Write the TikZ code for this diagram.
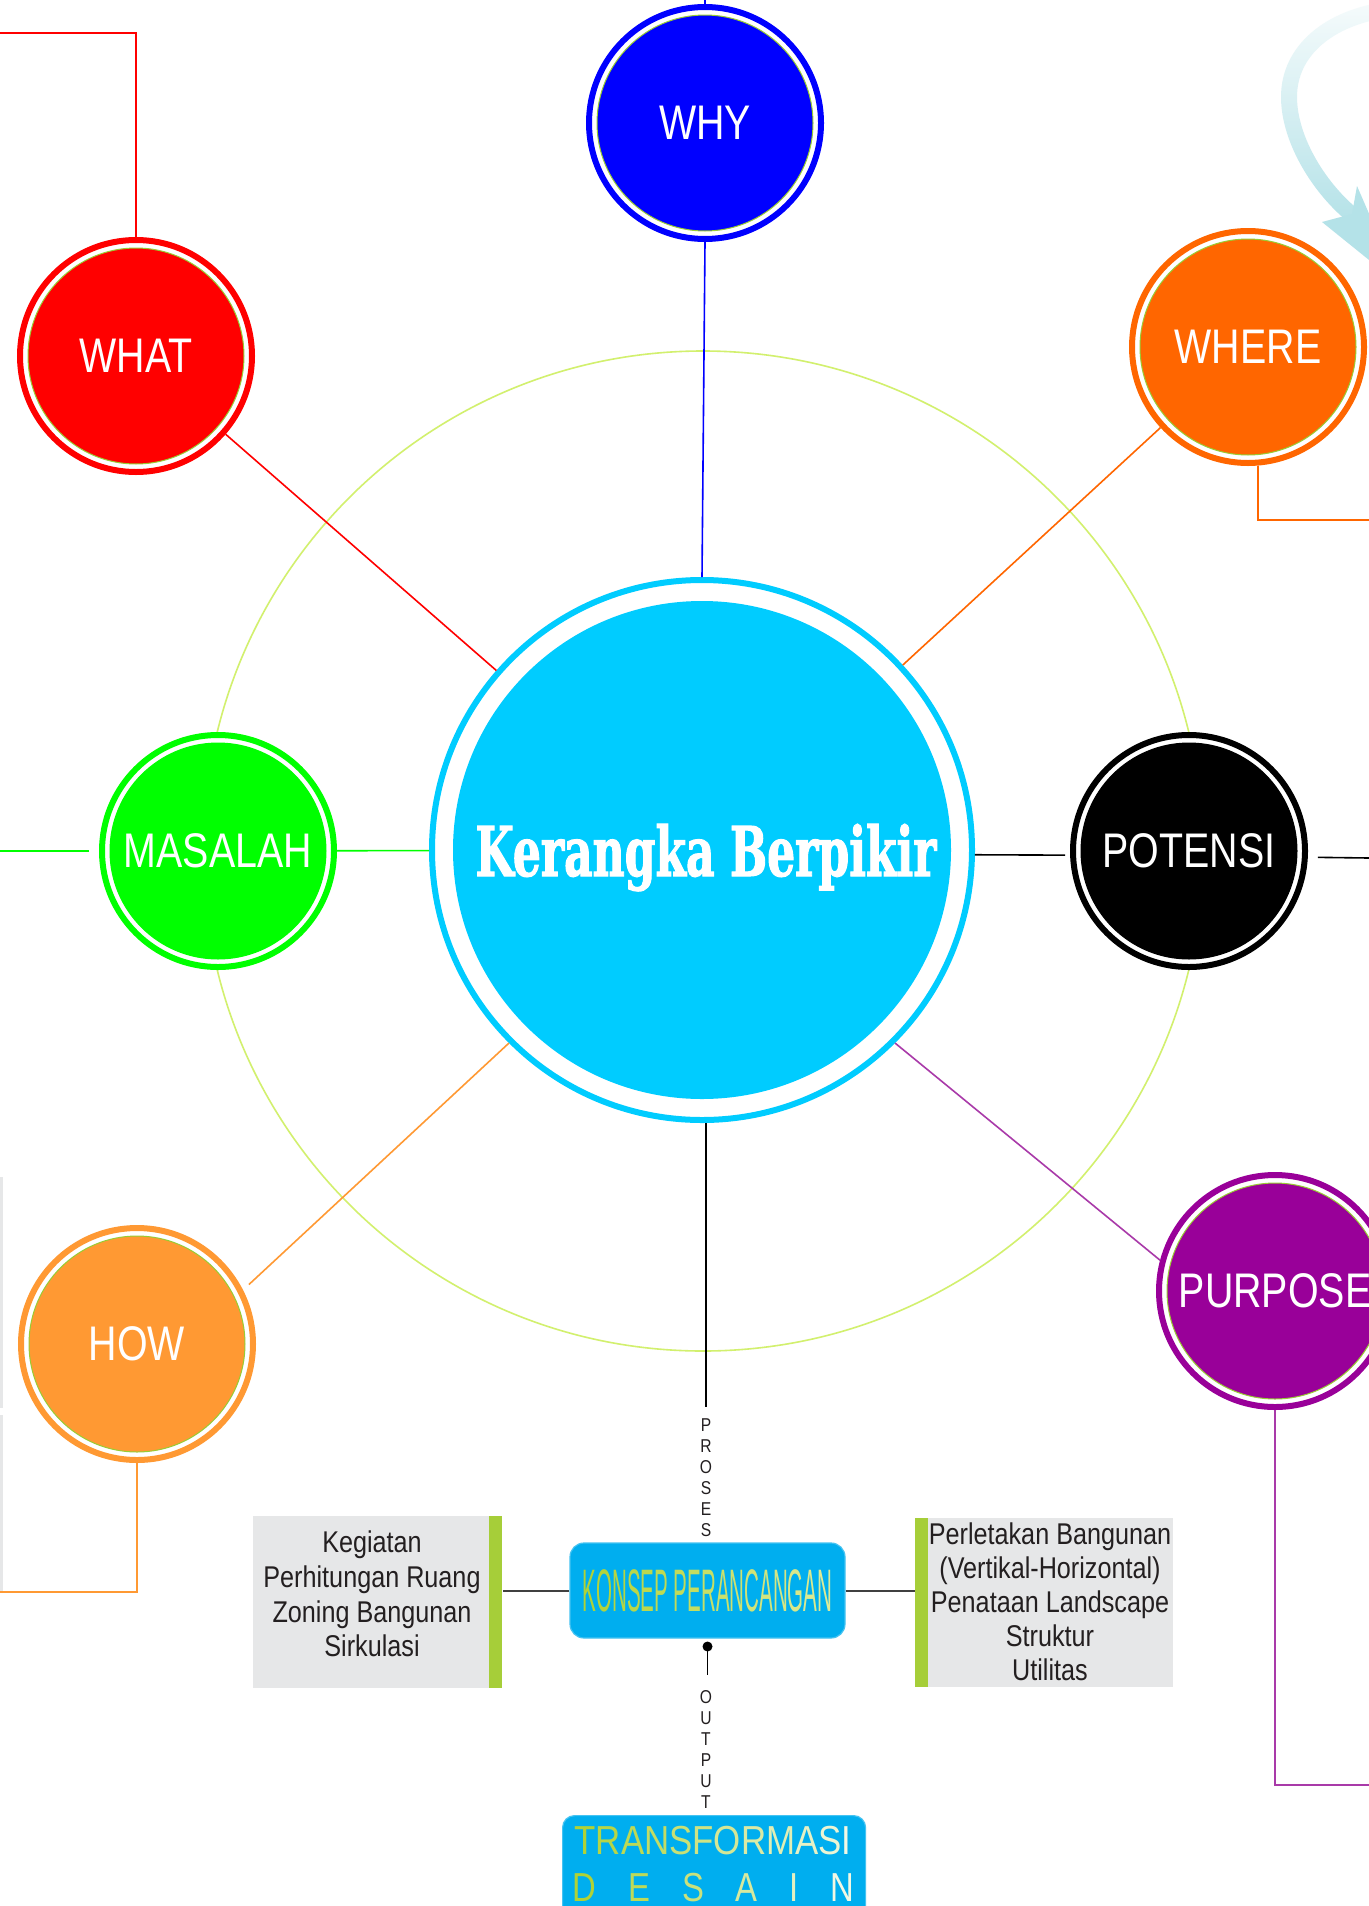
\documentclass[tikz,border=0pt]{standalone}
\usepackage{fontspec}
\setmainfont{Liberation Sans}
\newfontfamily\narrowsans{Liberation Sans}[FakeStretch=0.81]
\newfontfamily\panelsans{Liberation Sans}[FakeStretch=0.84]
\newfontfamily\slabserif{DejaVu Serif}[FakeStretch=0.75, FakeBold=1.6]
\usetikzlibrary{fadings}

\definecolor{whyblue}{HTML}{0000FF}
\definecolor{whatred}{HTML}{FF0000}
\definecolor{whereorange}{HTML}{FF6600}
\definecolor{masgreen}{HTML}{00FF00}
\definecolor{howorange}{HTML}{FF9933}
\definecolor{purp}{HTML}{990099}
\definecolor{purpline}{HTML}{A93AA9}
\definecolor{hubcyan}{HTML}{00CCFF}
\definecolor{rimgreen}{HTML}{99CC33}
\definecolor{orbitgreen}{HTML}{D2F06E}
\definecolor{boxblue}{HTML}{00AEEF}
\definecolor{boxedge}{HTML}{45C3F2}
\definecolor{panelgrey}{HTML}{E6E7E8}
\definecolor{bargreen}{HTML}{A6CE39}
\definecolor{paneltext}{HTML}{231F20}
\definecolor{lettergrey}{HTML}{231F20}
\definecolor{wiregrey}{HTML}{404040}
\definecolor{arrowcyan}{HTML}{B4E2E8}
\definecolor{lgA}{RGB}{176,210,54}
\definecolor{lgB}{RGB}{242,248,228}
\definecolor{lgC}{RGB}{222,235,150}

\tikzfading[name=arrowfade, top color=transparent!88, middle color=transparent!0, bottom color=transparent!0]

% letter-by-letter colour ramps
\newcommand\kfade[2]{\textcolor{lgC!#1!lgA}{#2}}
\newcommand\tfade[2]{\textcolor{lgB!#1!lgA}{#2}}

% a bubble: outer ring, white gap, filled core with label
\newcommand\bubble[5]{%
  \node[ring=#2] (#1) at (#4) {};
  \node[core=#2, draw=#3] (#1c) at (#4) {#5};
}

\begin{document}
\begin{tikzpicture}[x=0.5pt, y=-0.5pt,
  ring/.style={circle, draw=#1, line width=3pt, fill=white, minimum size=116pt, inner sep=0pt},
  core/.style={circle, fill=#1, line width=0.5pt, minimum size=108pt, inner sep=0pt,
               text=white, font=\narrowsans\fontsize{24.3}{28}\selectfont},
  link/.style={line width=0.8pt},
  elbow/.style={line width=1pt},
  greybox/.style={rectangle, fill=panelgrey, inner sep=0pt, anchor=north west},
  greenbar/.style={rectangle, fill=bargreen, inner sep=0pt, anchor=north west},
  bluebox/.style={rectangle, rounded corners=7pt, fill=boxblue, draw=boxedge, line width=0.6pt, inner sep=0pt},
  spelled/.style={align=center, text=lettergrey, font=\panelsans\fontsize{9.3}{10.5}\selectfont, inner xsep=0pt},
  panel/.style={align=center, text=paneltext, inner sep=0pt},
]

\useasboundingbox (0,0) rectangle (1369,1906);
\fill[white] (0,0) rectangle (1369,1906);
\clip (0,0) rectangle (1369,1906);

% thin grey strips on the left margin
\fill[panelgrey] (0,1177) rectangle (3,1408);
\fill[panelgrey] (0,1415) rectangle (3,1592);

% orbit through the side bubbles
\node[circle, draw=orbitgreen, line width=0.8pt, minimum size=500pt, inner sep=0pt] (orbit) at (703,851) {};

% central hub
\node[circle, draw=hubcyan, line width=3pt, fill=white, minimum size=270pt, inner sep=0pt] (cen) at (702,850) {};
\node[circle, fill=hubcyan, minimum size=249pt, inner sep=0pt] (cenc) at (702,850) {};
\node[anchor=base, text=white, inner sep=0pt] (title) at (706,876)
  {\resizebox{230.5pt}{\height}{\slabserif\bfseries\fontsize{34.3}{40}\selectfont Kerangka Berpikir}};

% bubbles
\bubble{why}{whyblue}{rimgreen}{705,123}{WHY}
\bubble{what}{whatred}{rimgreen}{136,356}{WHAT}
\bubble{where}{whereorange}{rimgreen}{1248,347}{WHERE}
\bubble{mas}{masgreen}{masgreen}{218,851}{MASALAH}
\bubble{pot}{black}{black}{1189,851}{POTENSI}
\bubble{how}{howorange}{rimgreen}{137,1344}{HOW}
\bubble{pur}{purp}{rimgreen}{1275,1291}{PURPOSE}

% spokes to the hub
\coordinate (whyTop) at (705,0);
\draw[link, whyblue] (why.south) -- (cen.north);
\draw[link, whyblue] (why.north) -- (whyTop);

\coordinate (whatEnd) at (0,33);
\draw[link, whatred] (what) -- (cen);
\draw[elbow, whatred] (what.north) |- (whatEnd);

\coordinate (whereEnd) at (1369,520);
\draw[link, whereorange] (where) -- (cen);
\draw[elbow, whereorange] (where.-85) |- (whereEnd);

\coordinate (masEnd) at (0,851);
\draw[link, masgreen] (mas) -- (cen);
\draw[link, masgreen, shorten <=5pt] (mas.west) -- (masEnd);

\coordinate (potEnd) at (1369,858);
\draw[link, black, shorten >=2.5pt] (cen.-1) -- (pot.182);
\draw[link, black, shorten <=5pt] (pot.-3) -- (potEnd);

\coordinate (howEnd) at (0,1592);
\draw[link, howorange, shorten >=4pt] (cen.225) -- (how.27);
\draw[elbow, howorange] (how.south) |- (howEnd);

\coordinate (purEnd) at (1369,1785);
\draw[link, purpline] (cen.-45) -- (pur.165);
\draw[elbow, purpline] (pur.south) |- (purEnd);

% curved arrow in the top right corner
\draw[arrowcyan, line width=8pt, path fading=arrowfade]
  (1385,10) .. controls (1330,18) and (1289,50) .. (1289,97)
            .. controls (1289,140) and (1320,190) .. (1356,218);
\fill[arrowcyan] (1357,186) -- (1400,285) -- (1322,222) -- (1352,214) -- cycle;

% process column
\node[spelled, inner ysep=5.5pt] (proses) at (706,1477.5) {P\\R\\O\\S\\E\\S};
\draw[link, black] (proses.north |- cen.south) -- (proses.north);

\node[bluebox, minimum width=137.5pt, minimum height=47.5pt] (konsep) at (707.5,1590.5)
  {\resizebox{125pt}{\height}{\narrowsans\fontsize{30}{36}\selectfont
   \kfade{0}{K}\kfade{6}{O}\kfade{12}{N}\kfade{19}{S}\kfade{25}{E}\kfade{31}{P}
   \kfade{37}{P}\kfade{44}{E}\kfade{50}{R}\kfade{56}{A}\kfade{62}{N}\kfade{69}{C}%
   \kfade{75}{A}\kfade{81}{N}\kfade{87}{G}\kfade{94}{A}\kfade{100}{N}}};

% side panels
\node[greybox, minimum width=118pt, minimum height=86pt] (kbox) at (253,1516) {};
\node[greenbar, minimum width=6.5pt, minimum height=86pt] (kbar) at (489,1516) {};
\node[panel, font=\panelsans\fontsize{15}{17.3}\selectfont] (ktext) at (372,1594)
  {Kegiatan\\Perhitungan Ruang\\Zoning Bangunan\\Sirkulasi};

\node[greenbar, minimum width=6.5pt, minimum height=84.5pt] (pbar) at (915,1518) {};
\node[greybox, minimum width=122.5pt, minimum height=84.5pt] (pbox) at (928,1518) {};
\node[panel, font=\panelsans\fontsize{15}{17}\selectfont] (ptext) at (1050,1601.5)
  {Perletakan Bangunan\\(Vertikal-Horizontal)\\Penataan Landscape\\Struktur\\Utilitas};

\draw[wiregrey, line width=1pt] (konsep.west) -- (konsep.west -| kbar.east);
\draw[wiregrey, line width=1pt] (konsep.east) -- (konsep.east -| pbar.west);

% output column
\node[circle, fill=black, minimum size=5pt, inner sep=0pt] (odot) at (707.5,1646.5) {};
\node[spelled, inner ysep=7.5pt] (output) at (706,1749.5) {O\\U\\T\\P\\U\\T};
\draw[link, black] (odot.center) -- (odot |- output.north);

\node[bluebox, rounded corners=6pt, anchor=north west, minimum width=151.5pt, minimum height=55pt] (tf) at (562,1815) {};
\node[anchor=base, inner sep=0pt] (tfA) at (713,1854)
  {\resizebox{138.35pt}{\height}{\narrowsans\fontsize{20.25}{24}\selectfont
   \tfade{0}{T}\tfade{9}{R}\tfade{18}{A}\tfade{27}{N}\tfade{36}{S}\tfade{45}{F}%
   \tfade{55}{O}\tfade{64}{R}\tfade{73}{M}\tfade{82}{A}\tfade{91}{S}\tfade{100}{I}}};
\node[anchor=base, inner sep=0pt] (tfB) at (713.5,1901.7)
  {\narrowsans\fontsize{20.25}{24}\selectfont\makebox[141pt][s]{%
   \tfade{0}{D}\hfill\tfade{20}{E}\hfill\tfade{40}{S}\hfill\tfade{60}{A}\hfill\tfade{80}{I}\hfill\tfade{100}{N}}};

\end{tikzpicture}
\end{document}
